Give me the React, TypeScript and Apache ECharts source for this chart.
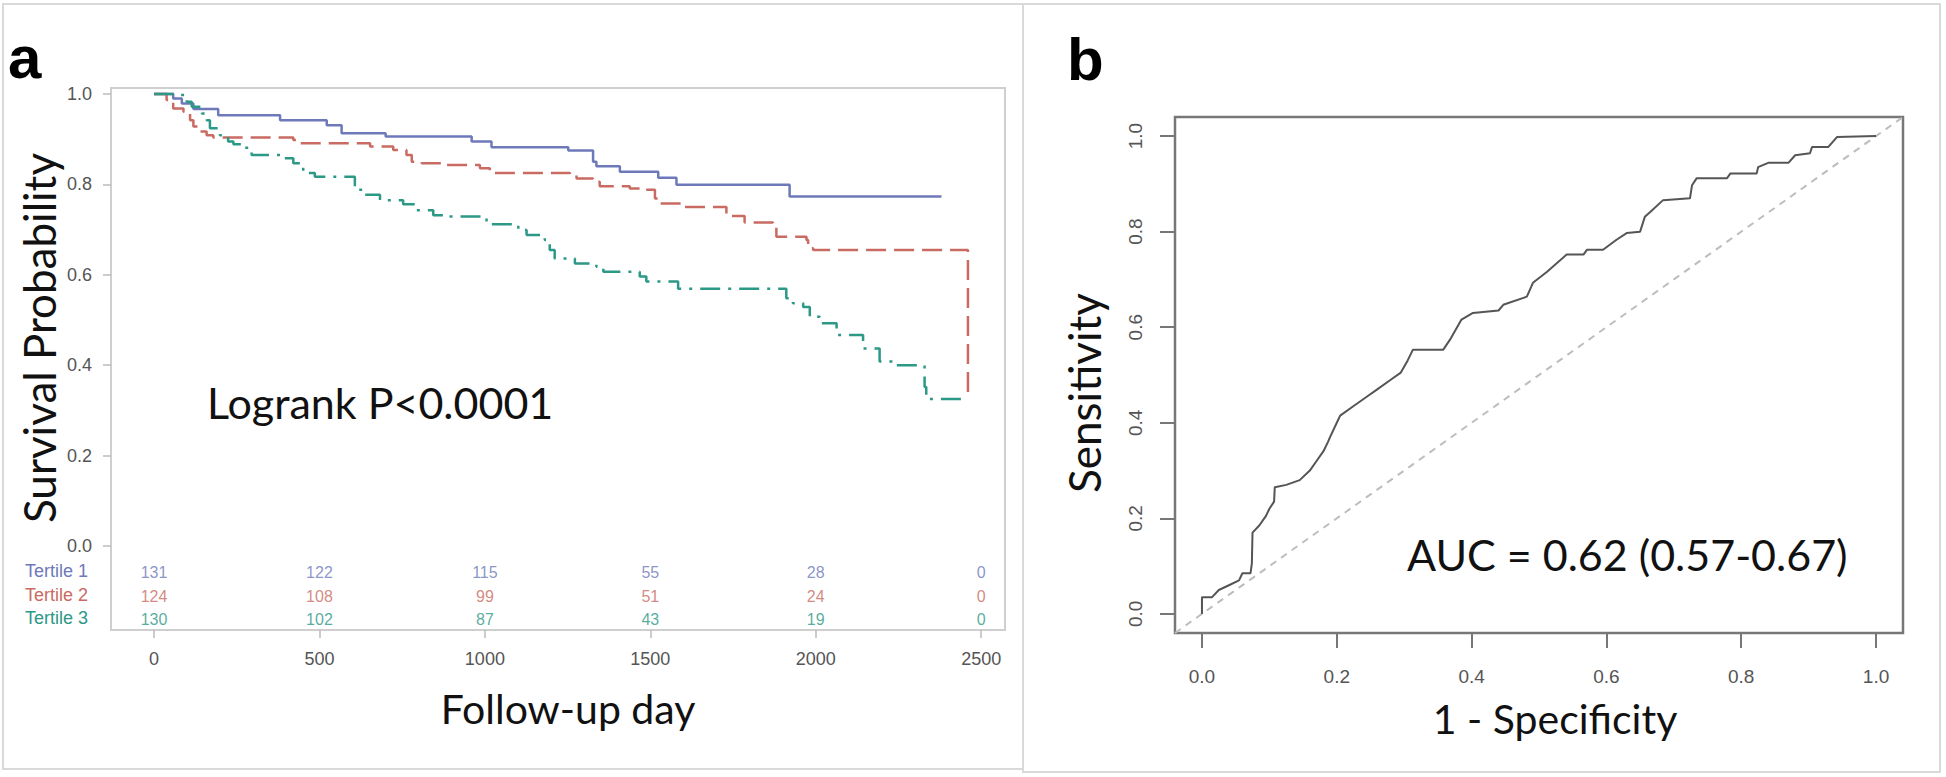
import React, { useEffect, useRef } from "react";
import * as echarts from "echarts";

// ---------- Panel a: Kaplan-Meier curves (time in days, survival probability) ----------
const tertile1: [number, number][] = [
  [0, 1.0], [58, 0.99], [84, 0.979], [119, 0.967], [194, 0.953], [381, 0.942], [522, 0.931],
  [567, 0.913], [700, 0.906], [960, 0.895], [1020, 0.882], [1252, 0.875], [1327, 0.85],
  [1337, 0.84], [1408, 0.828], [1524, 0.815], [1579, 0.799], [1921, 0.773], [2380, 0.773],
];
const tertile2: [number, number][] = [
  [0, 1.0], [38, 0.987], [58, 0.968], [89, 0.961], [109, 0.942], [119, 0.928], [139, 0.917],
  [159, 0.909], [179, 0.904], [421, 0.898], [431, 0.891], [653, 0.884], [723, 0.876],
  [763, 0.865], [779, 0.85], [809, 0.847], [880, 0.843], [985, 0.836], [1015, 0.828],
  [1025, 0.825], [1257, 0.821], [1277, 0.813], [1327, 0.806], [1347, 0.796], [1438, 0.791],
  [1473, 0.788], [1514, 0.769], [1529, 0.758], [1599, 0.75], [1730, 0.73], [1785, 0.716],
  [1871, 0.707], [1881, 0.684], [1972, 0.677], [1977, 0.659], [1992, 0.655], [2460, 0.327],
];
const tertile3: [number, number][] = [
  [0, 1.0], [79, 0.998], [99, 0.983], [114, 0.972], [144, 0.957], [159, 0.942], [169, 0.924],
  [199, 0.909], [224, 0.895], [240, 0.889], [270, 0.881], [295, 0.865], [391, 0.858],
  [421, 0.847], [451, 0.825], [486, 0.817], [607, 0.788], [632, 0.777], [683, 0.765],
  [753, 0.756], [794, 0.743], [844, 0.732], [874, 0.729], [1005, 0.712], [1101, 0.699],
  [1126, 0.688], [1181, 0.677], [1196, 0.655], [1211, 0.636], [1272, 0.625], [1337, 0.618],
  [1358, 0.607], [1468, 0.596], [1488, 0.585], [1584, 0.569], [1911, 0.548], [1931, 0.537],
  [1962, 0.529], [1982, 0.507], [2012, 0.493], [2063, 0.467], [2143, 0.437], [2193, 0.408],
  [2244, 0.4], [2329, 0.352], [2334, 0.325], [2455, 0.325],
];
const groupNames = ["Tertile 1", "Tertile 2", "Tertile 3"];
const riskTimes = [0, 500, 1000, 1500, 2000, 2500];
const riskTertile1 = [131, 122, 115, 55, 28, 0];
const riskTertile2 = [124, 108, 99, 51, 24, 0];
const riskTertile3 = [130, 102, 87, 43, 19, 0];
const kmXTicks = [0, 500, 1000, 1500, 2000, 2500];
const kmYTicks = [0, 0.2, 0.4, 0.6, 0.8, 1.0];
const logrankText = "Logrank P<0.0001";

// ---------- Panel b: ROC curve (1 - specificity, sensitivity) ----------
const rocCurve: [number, number][] = [
  [0, 0], [0, 0.035], [0.015, 0.035], [0.025, 0.05], [0.04, 0.06], [0.055, 0.07], [0.06, 0.085],
  [0.072, 0.085], [0.074, 0.105], [0.075, 0.17], [0.085, 0.185], [0.095, 0.205], [0.1, 0.22],
  [0.107, 0.235], [0.108, 0.265], [0.125, 0.27], [0.145, 0.28], [0.16, 0.3], [0.17, 0.32],
  [0.18, 0.34], [0.187, 0.36], [0.19, 0.37], [0.2, 0.4], [0.205, 0.415], [0.225, 0.435],
  [0.245, 0.455], [0.26, 0.47], [0.28, 0.49], [0.295, 0.505], [0.305, 0.53], [0.313, 0.553],
  [0.358, 0.553], [0.368, 0.574], [0.385, 0.616], [0.402, 0.63], [0.44, 0.635], [0.447, 0.647],
  [0.482, 0.664], [0.491, 0.693], [0.512, 0.716], [0.541, 0.752], [0.566, 0.752], [0.571, 0.762],
  [0.595, 0.762], [0.615, 0.783], [0.63, 0.797], [0.65, 0.8], [0.657, 0.831], [0.665, 0.841],
  [0.684, 0.866], [0.724, 0.87], [0.727, 0.897], [0.734, 0.912], [0.779, 0.912], [0.784, 0.922],
  [0.823, 0.922], [0.825, 0.935], [0.84, 0.944], [0.87, 0.944], [0.88, 0.96], [0.902, 0.964],
  [0.905, 0.977], [0.929, 0.977], [0.942, 0.998], [1.0, 1.0],
];
const rocDiagonal: [number, number][] = [[-0.04, -0.04], [1.04, 1.04]];
const rocTicks = [0, 0.2, 0.4, 0.6, 0.8, 1.0];
const aucText = "AUC = 0.62 (0.57-0.67)";

const COLORS = ["#6d79b9", "#c96b62", "#2c9886"];
const RISK_ROWS = [-0.0575, -0.1106, -0.1615];
const TITLE_FONT = "Lato";
const TICK_FONT = "Liberation Sans";

export default function App() {
  const ref = useRef<HTMLDivElement>(null);
  useEffect(() => {
    if (!ref.current) return;
    const chart = echarts.init(ref.current, undefined, { renderer: "svg" });
    const riskRows = [riskTertile1, riskTertile2, riskTertile3];
    const riskSeries = riskRows.map((row, i) => ({
      type: "scatter",
      xAxisIndex: 0,
      yAxisIndex: 0,
      symbolSize: 1,
      itemStyle: { color: "rgba(0,0,0,0)" },
      silent: true,
      data: row.map((n, j) => [riskTimes[j], RISK_ROWS[i], n]),
      label: {
        show: true,
        position: "inside",
        formatter: (p: any) => String(p.value[2]),
        color: COLORS[i],
        fontSize: 16,
        fontFamily: TICK_FONT,
      },
    }));
    const kmLine = (data: [number, number][], i: number, type: any) => ({
      type: "line",
      xAxisIndex: 0,
      yAxisIndex: 0,
      name: groupNames[i],
      step: "end",
      symbol: "none",
      silent: true,
      data,
      lineStyle: { color: COLORS[i], width: 2.5, type },
    });
    const text = (t: string, x: number, y: number, fs: number, extra: any = {}) => ({
      type: "text",
      x,
      y,
      silent: true,
      rotation: extra.rotation || 0,
      style: {
        text: t,
        fontSize: fs,
        fontFamily: extra.fontFamily || TITLE_FONT,
        fontWeight: extra.fontWeight || "normal",
        fill: extra.fill || "#111",
        textAlign: extra.align || "left",
        textVerticalAlign: "middle",
      },
    });
    chart.setOption({
      animation: false,
      grid: [
        { left: 111, top: 88, width: 894, height: 542, show: true, borderColor: "#cfcfcf", borderWidth: 2, backgroundColor: "transparent" },
        { left: 1175, top: 117, width: 728, height: 516, show: true, borderColor: "#777", borderWidth: 2.5, backgroundColor: "transparent" },
      ],
      xAxis: [
        {
          type: "value", gridIndex: 0, min: -130, max: 2572,
          axisLine: { show: false, onZero: false }, splitLine: { show: false },
          axisTick: { show: true, length: 8, customValues: kmXTicks, lineStyle: { color: "#bbb", width: 1.5 } },
          axisLabel: { customValues: kmXTicks, margin: 20, color: "#555", fontSize: 18, fontFamily: TICK_FONT, formatter: (v: number) => String(v) },
        },
        {
          type: "value", gridIndex: 1, min: -0.04, max: 1.04,
          axisLine: { show: false, onZero: false }, splitLine: { show: false },
          axisTick: { show: true, length: 15, customValues: rocTicks, lineStyle: { color: "#777", width: 2 } },
          axisLabel: { customValues: rocTicks, margin: 34, color: "#555", fontSize: 19, fontFamily: TICK_FONT, formatter: (v: number) => v.toFixed(1) },
        },
      ],
      yAxis: [
        {
          type: "value", gridIndex: 0, min: -0.1858, max: 1.0133,
          axisLine: { show: false, onZero: false }, splitLine: { show: false },
          axisTick: { show: true, length: 8, customValues: kmYTicks, lineStyle: { color: "#bbb", width: 1.5 } },
          axisLabel: { customValues: kmYTicks, margin: 19, color: "#555", fontSize: 18, fontFamily: TICK_FONT, formatter: (v: number) => v.toFixed(1) },
        },
        {
          type: "value", gridIndex: 1, min: -0.04, max: 1.04,
          axisLine: { show: false, onZero: false }, splitLine: { show: false },
          axisTick: { show: true, length: 15, customValues: rocTicks, lineStyle: { color: "#777", width: 2 } },
          axisLabel: { customValues: rocTicks, rotate: 90, margin: 30, color: "#555", fontSize: 19, fontFamily: TICK_FONT, formatter: (v: number) => v.toFixed(1) },
        },
      ],
      series: [
        kmLine(tertile1, 0, "solid"),
        kmLine(tertile2, 1, [20, 8]),
        kmLine(tertile3, 2, [20, 8, 3, 8]),
        ...riskSeries,
        {
          type: "line", xAxisIndex: 1, yAxisIndex: 1, symbol: "none", silent: true,
          data: rocDiagonal, lineStyle: { color: "#bdbdbd", width: 2, type: [7, 6] },
        },
        {
          type: "line", xAxisIndex: 1, yAxisIndex: 1, symbol: "none", silent: true,
          data: rocCurve, lineStyle: { color: "#555", width: 2 },
        },
      ],
      graphic: [
        { type: "rect", silent: true, shape: { x: 3, y: 4, width: 1020, height: 765 }, style: { fill: "none", stroke: "#d9d9d9", lineWidth: 2 } },
        { type: "rect", silent: true, shape: { x: 1023, y: 4, width: 917, height: 768 }, style: { fill: "none", stroke: "#d9d9d9", lineWidth: 2 } },
        text("a", 8, 57, 60, { fontFamily: "Liberation Sans", fontWeight: "bold", fill: "#000" }),
        text("b", 1067, 59, 60, { fontFamily: "Liberation Sans", fontWeight: "bold", fill: "#000" }),
        text(logrankText, 207, 402, 43),
        text(aucText, 1407, 554, 43),
        text("Follow-up day", 568, 708, 41, { align: "center" }),
        text("1 - Specificity", 1555, 718, 41, { align: "center" }),
        text("Survival Probability", 39, 338, 44, { align: "center", rotation: Math.PI / 2 }),
        text("Sensitivity", 1084, 393, 44, { align: "center", rotation: Math.PI / 2 }),
        ...groupNames.map((g, i) =>
          text(g, 25, [571, 595, 618][i], 18, { fontFamily: TICK_FONT, fill: COLORS[i] })
        ),
      ],
    });
    return () => chart.dispose();
  }, []);
  return (
    <div
      ref={ref}
      style={{ position: "absolute", left: 0, top: 0, width: 1946, height: 777, background: "#fff" }}
    />
  );
}
